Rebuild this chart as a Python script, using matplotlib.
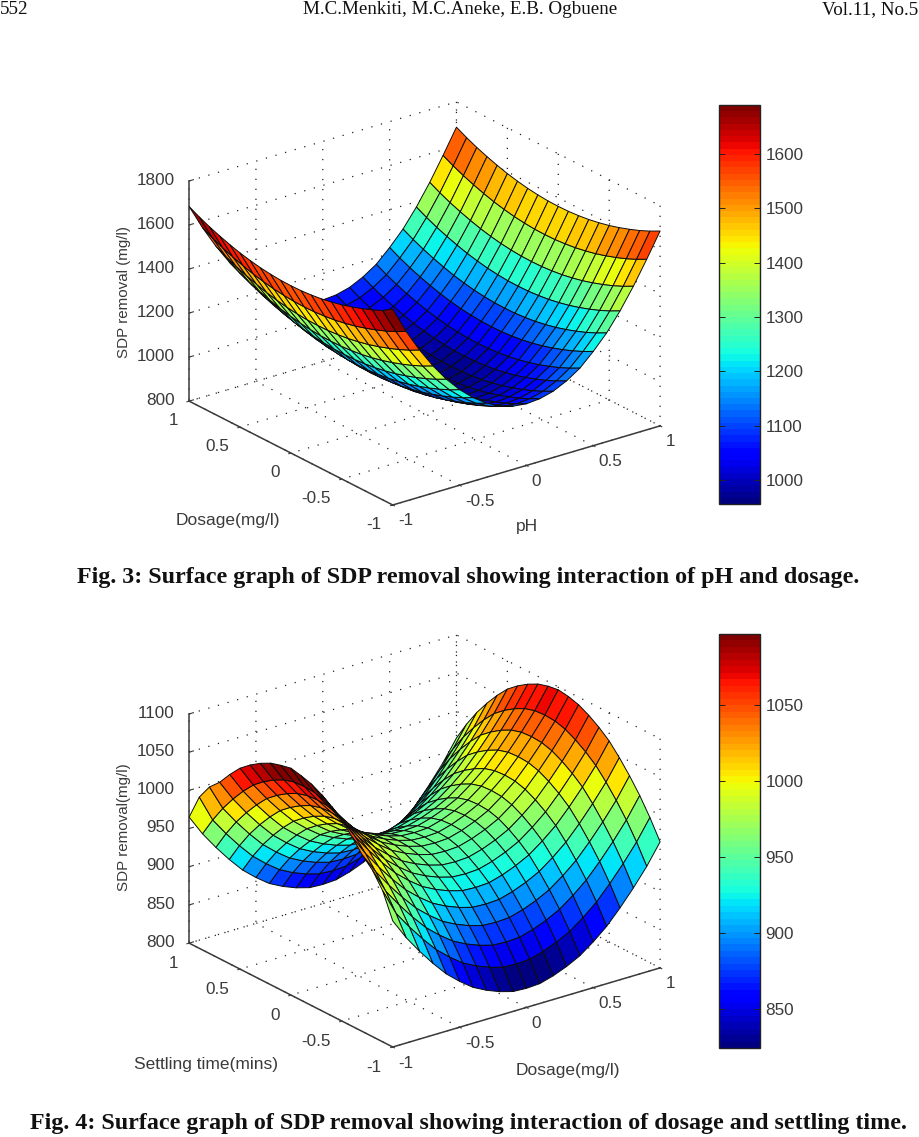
import numpy as np
import matplotlib
matplotlib.use("Agg")
import matplotlib.pyplot as plt
from matplotlib.colors import Normalize
from matplotlib.cm import ScalarMappable
from mpl_toolkits.mplot3d import proj3d

W, H = 920, 1137
plt.rcParams['font.family'] = ['Liberation Sans', 'DejaVu Sans']
plt.rcParams['grid.linestyle'] = (0, (1, 7))
plt.rcParams['grid.linewidth'] = 0.9
plt.rcParams['grid.color'] = '#222222'

axis_values = [-1, -0.9, -0.8, -0.7, -0.6, -0.5, -0.4, -0.3, -0.2, -0.1, 0,
               0.1, 0.2, 0.3, 0.4, 0.5, 0.6, 0.7, 0.8, 0.9, 1]
tick_values = [-1, -0.5, 0, 0.5, 1]
tick_text = ['-1', '-0.5', '0', '0.5', '1']

# Fig. 3: values, one row per dosage level
a0 = [1560,1446,1344,1254,1176,1110,1056,1013,982,963,956,961,977,1006,1046,1104,1170,1252,1346,1451,1561]
a1 = [1561,1447,1345,1255,1177,1111,1057,1014,983,964,957,962,978,1007,1047,1105,1171,1253,1347,1452,1562]
a2 = [1565,1451,1349,1259,1181,1115,1061,1018,987,968,961,966,982,1011,1051,1109,1175,1257,1351,1456,1566]
a3 = [1571,1457,1355,1265,1187,1121,1067,1024,993,974,967,972,988,1017,1057,1115,1181,1263,1357,1462,1572]
a4 = [1580,1466,1364,1274,1196,1130,1076,1033,1002,983,976,981,997,1026,1066,1124,1190,1272,1366,1471,1581]
a5 = [1591,1477,1375,1285,1207,1141,1087,1044,1013,994,987,992,1008,1037,1077,1135,1201,1283,1377,1482,1592]
a6 = [1605,1491,1389,1299,1221,1155,1101,1058,1027,1008,1001,1006,1022,1051,1091,1149,1215,1297,1391,1496,1606]
a7 = [1621,1507,1405,1315,1237,1171,1117,1074,1043,1024,1017,1022,1038,1067,1107,1165,1231,1313,1407,1512,1622]
a8 = [1639,1525,1423,1333,1255,1189,1135,1092,1061,1042,1035,1040,1056,1085,1125,1183,1249,1331,1425,1530,1640]
a9 = [1660,1546,1444,1354,1276,1210,1156,1113,1082,1063,1056,1061,1077,1106,1146,1204,1270,1352,1446,1551,1661]
a10 = [1684,1570,1468,1378,1300,1234,1180,1137,1106,1087,1080,1085,1101,1130,1170,1228,1294,1376,1470,1575,1685]
a10f = [1690,1570,1468,1378,1300,1234,1180,1137,1106,1087,1080,1085,1101,1130,1170,1228,1294,1376,1470,1575,1685]
removal_3 = [a10f,a9,a8,a7,a6,a5,a4,a3,a2,a1,a0,a1,a2,a3,a4,a5,a6,a7,a8,a9,a10]

# Fig. 4: values, one row per settling time level
b0 = [1097,1068,1045,1024,1005,990,977,968,961,956,955,956,961,968,977,990,1005,1024,1045,1068,1096]
b1 = [1094,1067,1044,1023,1004,989,976,967,960,955,954,955,960,967,976,989,1004,1023,1044,1067,1094]
b2 = [1090,1063,1040,1019,1000,985,972,963,956,951,950,951,956,963,972,985,1000,1019,1040,1063,1090]
b3 = [1083,1056,1033,1012,993,978,965,956,949,944,943,944,949,956,965,978,993,1012,1033,1056,1083]
b4 = [1074,1047,1024,1003,984,969,956,947,940,935,934,935,940,947,956,969,984,1003,1024,1047,1074]
b5 = [1063,1036,1013,992,973,958,945,936,929,924,923,924,929,936,945,958,973,992,1013,1036,1063]
b6 = [1048,1021,998,977,958,943,930,921,914,909,908,909,914,921,930,943,958,977,998,1021,1048]
b7 = [1031,1004,981,960,941,926,913,904,897,892,891,892,897,904,913,926,941,960,981,1004,1031]
b8 = [1018,985,962,941,922,907,894,885,878,873,872,873,878,885,894,907,922,941,962,985,1012]
b9 = [998,963,940,919,900,885,872,863,856,851,850,851,856,863,872,885,900,919,940,963,990]
b10 = [965,938,915,894,875,860,847,838,831,826,825,826,831,838,847,860,875,894,915,938,965]
removal_4 = [b10,b9,b8,b7,b6,b5,b4,b3,b2,b1,b0,b1,b2,b3,b4,b5,b6,b7,b8,b9,b10]

z_ticks_3 = [800, 1000, 1200, 1400, 1600, 1800]
z_ticks_4 = [800, 850, 900, 950, 1000, 1050, 1100]
bar_ticks_3 = [1000, 1100, 1200, 1300, 1400, 1500, 1600]
bar_ticks_4 = [850, 900, 950, 1000, 1050]
color_range_3 = (956, 1690)
color_range_4 = (824, 1097)

INK = '#3a3a3a'
fig = plt.figure(figsize=(W / 100, H / 100), dpi=100, facecolor='white')


def px_text(x, y, s, **kw):
    return fig.text(x / W, 1 - y / H, s, **kw)


def fit_axes(ax, left, right, front, zlim):
    """Scale and shift the 3D axes so that the box corners land on the target pixels."""
    for _ in range(3):
        ax.apply_aspect()
        xs = [-1, 1, -1]
        ys = [1, -1, -1]
        zs = [zlim[0]] * 3
        x2, y2, _z = proj3d.proj_transform(xs, ys, zs, ax.get_proj())
        pts = ax.transData.transform(np.column_stack([x2, y2]))
        scale = (right[0] - left[0]) / (pts[1, 0] - pts[0, 0])
        pos = ax.get_position(original=True)
        want_x = (left[0] + right[0] + front[0]) / 3
        want_y = H - (left[1] + right[1] + front[1]) / 3
        cx, cy = pts[:, 0].mean(), pts[:, 1].mean()
        x0 = pos.x0 * W
        y0 = pos.y0 * H
        size = pos.width * W
        new_size = size * scale
        nx0 = want_x - (cx - x0) * scale
        ny0 = want_y - (cy - y0) * scale
        ax.set_position([nx0 / W, ny0 / H, new_size / W, new_size / H])


def surface(z_rows, zlim, zticks, crange, aspect, left, right, front):
    ax = fig.add_axes([0.05, 0.3, 700 / W, 700 / H], projection='3d')
    ax.patch.set_alpha(0)
    ax.set_proj_type('ortho')
    ax.view_init(elev=22.86, azim=-127.3)
    ax.set_box_aspect((1, 1, aspect))
    X, Y = np.meshgrid(axis_values, axis_values)
    Z = np.array(z_rows, dtype=float)
    norm = Normalize(*crange)
    cmap = plt.get_cmap('jet', 64)
    ax.plot_surface(X, Y, Z, rstride=1, cstride=1, facecolors=cmap(norm(Z)),
                    edgecolor='#0c0c0c', linewidth=0.7, shade=False, antialiased=True)
    ax.set_xlim(-1, 1)
    ax.set_ylim(-1, 1)
    ax.set_zlim(*zlim)
    ax.set_xticks(tick_values, tick_text, ha='left', va='top')
    ax.set_yticks(tick_values, tick_text, ha='right', va='top')
    ax.set_zticks(zticks, [str(t) for t in zticks], ha='right', va='center')
    for a in (ax.xaxis, ax.yaxis, ax.zaxis):
        a.set_pane_color((1, 1, 1, 0))
        a.pane.set_edgecolor((1, 1, 1, 0))
        a.line.set_color(INK)
        a.line.set_linewidth(1.1)
        a._axinfo['tick']['inward_factor'] = 0.1
        a._axinfo['tick']['outward_factor'] = 0.0
        a._axinfo['tick']['linewidth'][True] = 0.8
        a.set_tick_params(labelsize=12.3, labelcolor=INK, color=INK)
    ax.zaxis._axinfo['tick']['inward_factor'] = 0.0
    ax.zaxis._axinfo['tick']['outward_factor'] = 0.2
    ax.zaxis.set_ticks_position('upper')
    ax.zaxis.set_label_position('upper')
    ax.tick_params(axis='x', pad=-3)
    ax.tick_params(axis='y', pad=0)
    ax.tick_params(axis='z', pad=-2)
    fit_axes(ax, left, right, front, zlim)
    return ax


surface(removal_3, (800, 1800), z_ticks_3, color_range_3, 0.711, (189, 401), (660, 426), (393, 505))
surface(removal_4, (800, 1100), z_ticks_4, color_range_4, 0.74, (189, 942), (660, 968), (393, 1048))


def bar(top, bottom, crange, ticks):
    cax = fig.add_axes([719 / W, 1 - bottom / H, 41 / W, (bottom - top) / H])
    sm = ScalarMappable(Normalize(*crange), plt.get_cmap('jet', 64))
    cb = fig.colorbar(sm, cax=cax, ticks=ticks)
    cb.outline.set_edgecolor('#222222')
    cb.outline.set_linewidth(1.0)
    cax.tick_params(axis='y', which='both', direction='in', left=True, right=True,
                    length=4, width=0.7, color='#222222', labelleft=False, labelright=True,
                    labelsize=12.3, labelcolor=INK, pad=4)
    cax.minorticks_off()


bar(105, 504, color_range_3, bar_ticks_3)
bar(634, 1048, color_range_4, bar_ticks_4)

label = dict(ha='center', va='center', fontsize=12.5, color=INK)
side = dict(ha='center', va='center', fontsize=10.9, color=INK, rotation=90)
px_text(228, 520, 'Dosage(mg/l)', **label)
px_text(527, 526, 'pH', **label)
px_text(124, 292, 'SDP removal (mg/l)', **side)
px_text(206, 1065, 'Settling time(mins)', **label)
px_text(568, 1071, 'Dosage(mg/l)', **label)
px_text(124, 827, 'SDP removal(mg/l)', **side)

serif = ['Liberation Serif', 'DejaVu Serif']
px_text(0, 10, '552', family=serif, fontsize=13.7, ha='left', va='center', color='#111111')
px_text(460, 10, 'M.C.Menkiti, M.C.Aneke, E.B. Ogbuene', family=serif, fontsize=13.7,
        ha='center', va='center', color='#111111')
px_text(918, 10, 'Vol.11, No.5', family=serif, fontsize=13.7, ha='right', va='center', color='#111111')
px_text(468, 578, 'Fig. 3: Surface graph of SDP removal showing interaction of pH and dosage.',
        family=serif, fontweight='bold', fontsize=17.3, ha='center', va='center', color='#111111')
px_text(468, 1124, 'Fig. 4: Surface graph of SDP removal showing interaction of dosage and settling time.',
        family=serif, fontweight='bold', fontsize=17.3, ha='center', va='center', color='#111111')

fig.savefig('out.png', dpi=100, facecolor='white')
